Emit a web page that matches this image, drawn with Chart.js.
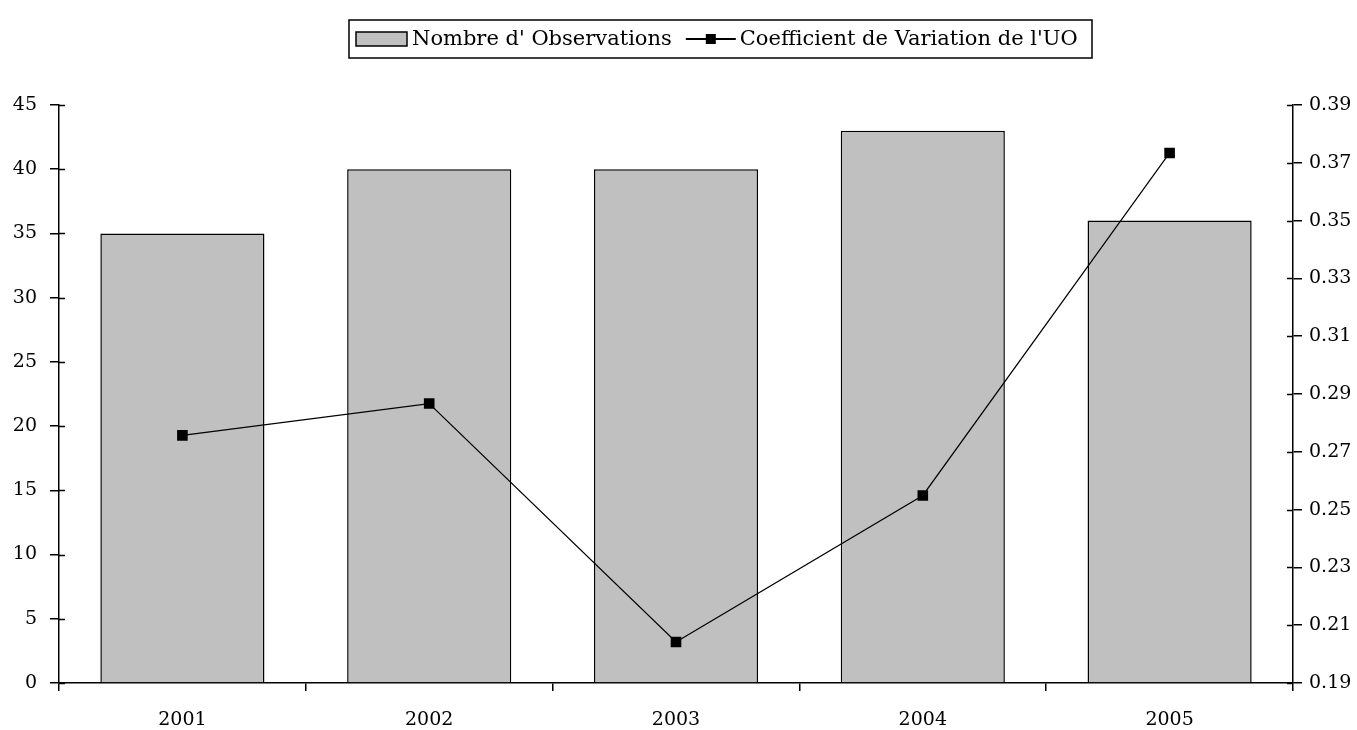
<!DOCTYPE html>
<html>
<head>
<meta charset="utf-8">
<script src="https://cdn.jsdelivr.net/npm/chart.js@4"></script>
<style>
  html, body { margin: 0; padding: 0; background: #fff; }
  #wrap { width: 1357px; height: 730px; }
</style>
</head>
<body>
<div id="wrap"><canvas id="chart" width="1357" height="730"></canvas></div>
<script>
var years = ['2001', '2002', '2003', '2004', '2005'];
var observations = [35, 40, 40, 43, 36];
var coefVariation = [0.2757, 0.2867, 0.2042, 0.2549, 0.3734];
var leftTicks = [0, 45, 5];      // min, max, step
var rightTicks = [0.19, 0.39, 0.02];

var serif = '"DejaVu Serif", "Liberation Serif", serif';

// legend drawn by hand: a framed box like the original
var boxLegend = {
  id: 'boxLegend',
  afterDraw: function (chart) {
    var ctx = chart.ctx;
    var bars = chart.data.datasets[1];
    var line = chart.data.datasets[0];
    ctx.save();
    ctx.font = '21px ' + serif;
    ctx.textBaseline = 'middle';
    var x0 = 349, y0 = 20, w = 743, h = 38, cy = y0 + h / 2;
    ctx.strokeStyle = '#000';
    ctx.lineWidth = 1.5;
    ctx.strokeRect(x0, y0, w, h);
    // bar swatch
    ctx.fillStyle = '#c0c0c0';
    ctx.fillRect(356, cy - 7, 51, 14);
    ctx.strokeRect(356, cy - 7, 51, 14);
    ctx.fillStyle = '#000';
    ctx.fillText(bars.label, 412, cy + 1);
    var w1 = ctx.measureText(bars.label).width;
    // line swatch
    var lx = 412 + w1 + 14;
    ctx.lineWidth = 1.8;
    ctx.beginPath();
    ctx.moveTo(lx, cy);
    ctx.lineTo(lx + 50, cy);
    ctx.stroke();
    ctx.fillRect(lx + 20, cy - 5, 10, 10);
    ctx.fillText(line.label, lx + 54, cy + 1);
    ctx.restore();
  }
};

// y-axis ticks cross the axis line: add the inner part
var innerTicks = {
  id: 'innerTicks',
  afterDraw: function (chart) {
    var ctx = chart.ctx;
    ctx.save();
    ctx.strokeStyle = '#000';
    ctx.lineWidth = 1.5;
    ['y', 'y1'].forEach(function (id) {
      var s = chart.scales[id];
      var xa = id === 'y' ? s.right : s.left;
      var dir = id === 'y' ? 1 : -1;
      s.ticks.forEach(function (t) {
        var py = Math.round(s.getPixelForValue(t.value)) + 0.5;
        ctx.beginPath();
        ctx.moveTo(xa, py);
        ctx.lineTo(xa + dir * 6, py);
        ctx.stroke();
      });
    });
    ctx.restore();
  }
};

var ctx = document.getElementById('chart').getContext('2d');
new Chart(ctx, {
  data: {
    labels: years,
    datasets: [{
      type: 'line',
      label: 'Coefficient de Variation de l\'UO',
      data: coefVariation,
      yAxisID: 'y1',
      borderColor: '#000',
      borderWidth: 1.2,
      pointStyle: 'rect',
      pointRadius: 7.5,
      pointBackgroundColor: '#000',
      pointBorderWidth: 0,
      tension: 0,
      order: 0
    }, {
      type: 'bar',
      label: 'Nombre d\' Observations',
      data: observations,
      yAxisID: 'y',
      backgroundColor: '#c0c0c0',
      borderColor: '#000',
      borderWidth: 1.5,
      categoryPercentage: 1,
      barPercentage: 0.665,
      order: 1
    }]
  },
  options: {
    responsive: false,
    animation: false,
    layout: { padding: { top: 105, left: 0, right: 0, bottom: 0 } },
    plugins: {
      legend: { display: false },
      tooltip: { enabled: false }
    },
    scales: {
      x: {
        offset: true,
        grid: { offset: true, drawOnChartArea: false, color: '#000', lineWidth: 1.5, tickLength: 8 },
        border: { color: '#000', width: 1.5 },
        ticks: { color: '#000', font: { family: serif, size: 19 }, padding: 18 },
        afterFit: function (s) { s.height = 47; }
      },
      y: {
        position: 'left',
        min: leftTicks[0],
        max: leftTicks[1],
        grid: { drawOnChartArea: false, color: '#000', lineWidth: 1.5, tickLength: 9 },
        border: { color: '#000', width: 1.5 },
        ticks: { stepSize: leftTicks[2], color: '#000', font: { family: serif, size: 19 }, padding: 13 },
        afterFit: function (s) { s.width = 59; }
      },
      y1: {
        position: 'right',
        min: rightTicks[0],
        max: rightTicks[1],
        grid: { drawOnChartArea: false, color: '#000', lineWidth: 1.5, tickLength: 9 },
        border: { color: '#000', width: 1.5 },
        ticks: {
          stepSize: rightTicks[2],
          color: '#000',
          font: { family: serif, size: 19 },
          padding: 7,
          callback: function (v) { return Number(v).toFixed(2); }
        },
        afterFit: function (s) { s.width = 64; }
      }
    }
  },
  plugins: [boxLegend, innerTicks]
});
</script>
</body>
</html>
